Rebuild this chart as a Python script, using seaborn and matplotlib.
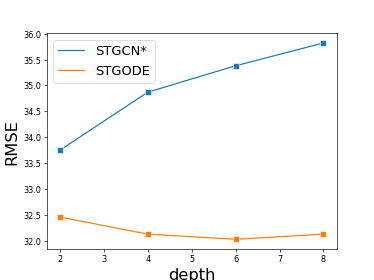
import matplotlib
matplotlib.use('Agg')
import matplotlib.pyplot as plt
import seaborn as sns
import pandas as pd

# depth vs RMSE
depth = [2, 4, 6, 8]
stgcn = [33.75, 34.87, 35.38, 35.82]
stgode = [32.46, 32.13, 32.03, 32.13]

df = pd.DataFrame({
    'depth': depth * 2,
    'RMSE': stgcn + stgode,
    'model': ['STGCN*'] * 4 + ['STGODE'] * 4,
})

fig, ax = plt.subplots(figsize=(6.4, 4.8), dpi=374 / 6.4)
sns.lineplot(data=df, x='depth', y='RMSE', hue='model', marker='s',
             markersize=8, palette=['#1f77b4', '#ff7f0e'], ax=ax)

ax.set_xlabel('depth', fontsize=20)
ax.set_ylabel('RMSE', fontsize=20)
leg = ax.legend(fontsize=16, loc='upper left')
# legend shows lines only
for h in leg.get_lines():
    h.set_marker('')

fig.savefig('out.png', dpi=374 / 6.4)
